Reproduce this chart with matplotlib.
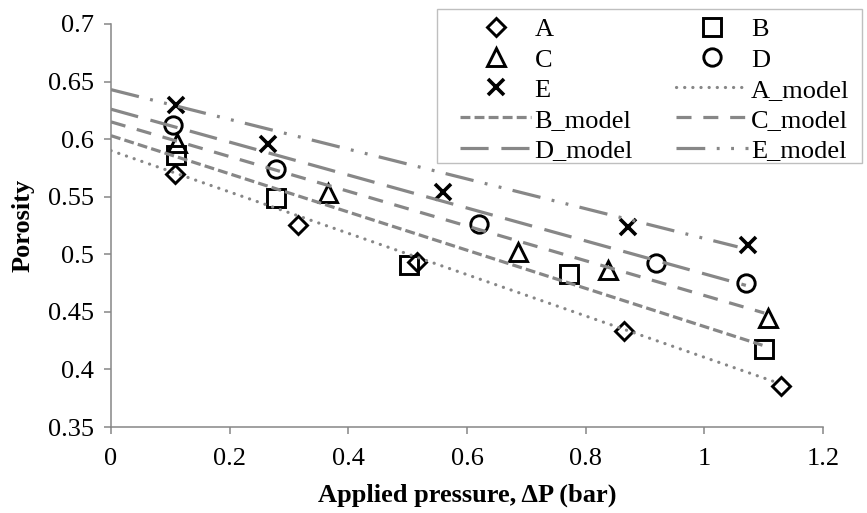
import matplotlib
matplotlib.use("Agg")
import matplotlib.pyplot as plt
from matplotlib.patches import Rectangle

plt.rcParams["font.family"] = ["Liberation Serif", "DejaVu Serif"]
plt.rcParams["font.size"] = 19

# Measured points (applied pressure in bar, porosity)
pressure_A = [0.108, 0.315, 0.515, 0.864, 1.129]
porosity_A = [0.570, 0.525, 0.493, 0.433, 0.386]
pressure_B = [0.110, 0.278, 0.502, 0.772, 1.101]
porosity_B = [0.586, 0.549, 0.491, 0.483, 0.418]
pressure_C = [0.112, 0.365, 0.686, 0.838, 1.107]
porosity_C = [0.597, 0.553, 0.502, 0.486, 0.445]
pressure_D = [0.105, 0.278, 0.620, 0.918, 1.070]
porosity_D = [0.612, 0.574, 0.526, 0.492, 0.475]
pressure_E = [0.110, 0.265, 0.560, 0.871, 1.073]
porosity_E = [0.630, 0.596, 0.554, 0.524, 0.508]

# Linear model lines (start and end points)
model_x_A = [0.0, 1.120]
model_y_A = [0.590, 0.389]
model_x_B = [0.0, 1.098]
model_y_B = [0.603, 0.421]
model_x_C = [0.0, 1.101]
model_y_C = [0.615, 0.449]
model_x_D = [0.0, 1.070]
model_y_D = [0.626, 0.473]
model_x_E = [0.0, 1.056]
model_y_E = [0.643, 0.5065]

x_ticks = [0, 0.2, 0.4, 0.6, 0.8, 1, 1.2]
x_tick_labels = ["0", "0.2", "0.4", "0.6", "0.8", "1", "1.2"]
y_ticks = [0.35, 0.4, 0.45, 0.5, 0.55, 0.6, 0.65, 0.7]
y_tick_labels = ["0.35", "0.4", "0.45", "0.5", "0.55", "0.6", "0.65", "0.7"]

AXIS_GRAY = "#868686"
LINE_GRAY = "#878787"

fig = plt.figure(figsize=(8.67, 5.13), dpi=100)
ax = fig.add_axes([111 / 867, 1 - 427 / 513, 712 / 867, 403 / 513])

mk = dict(linestyle="none", markerfacecolor="none", markeredgecolor="black",
          markeredgewidth=2.1)
hA, = ax.plot(pressure_A, porosity_A, marker="D", markersize=9.5, label="A", **mk)
hB, = ax.plot(pressure_B, porosity_B, marker="s", markersize=12.5, label="B", **mk)
hC, = ax.plot(pressure_C, porosity_C, marker="^", markersize=12.5, label="C", **mk)
hD, = ax.plot(pressure_D, porosity_D, marker="o", markersize=12.5, label="D", **mk)
hE, = ax.plot(pressure_E, porosity_E, marker="x", markersize=11.5, label="E",
              linestyle="none", color="black", markeredgewidth=2.6)

lw = 2.3
mA, = ax.plot(model_x_A, model_y_A, color=LINE_GRAY, lw=lw, dashes=(0.05, 2.5),
              dash_capstyle="round", label="A_model")
mB, = ax.plot(model_x_B, model_y_B, color=LINE_GRAY, lw=lw, dashes=(3.1, 1.3),
              label="B_model")
mC, = ax.plot(model_x_C, model_y_C, color=LINE_GRAY, lw=lw, dashes=(4.7, 3.7),
              label="C_model")
mD, = ax.plot(model_x_D, model_y_D, color=LINE_GRAY, lw=lw, dashes=(8.8, 4.0),
              label="D_model")
mE, = ax.plot(model_x_E, model_y_E, color=LINE_GRAY, lw=lw,
              dashes=(9.0, 3.6, 0.9, 3.6, 0.9, 3.6), label="E_model")

ax.set_xlim(0, 1.2)
ax.set_ylim(0.35, 0.7)
ax.set_xticks(x_ticks)
ax.set_xticklabels(x_tick_labels)
ax.set_yticks(y_ticks)
ax.set_yticklabels(y_tick_labels)

for side in ("top", "right"):
    ax.spines[side].set_visible(False)
for side in ("left", "bottom"):
    ax.spines[side].set_color(AXIS_GRAY)
    ax.spines[side].set_linewidth(1.1)
ax.tick_params(axis="both", direction="out", length=5, width=1.1,
               color=AXIS_GRAY, labelsize=19)
ax.tick_params(axis="x", pad=10)
ax.tick_params(axis="y", pad=7)

ax.set_xlabel("Applied pressure, \u0394P (bar)", fontweight="bold", fontsize=19)
ax.set_ylabel("Porosity", fontweight="bold", fontsize=19)
ax.xaxis.set_label_coords(0.5, -0.14)
ax.yaxis.set_label_coords(-0.108, 0.5)

# matplotlib fills legend columns first, so order handles column by column
handles = [hA, hC, hE, mB, mD, hB, hD, mA, mC, mE]
ax.legend(handles=handles, labels=[h.get_label() for h in handles], ncol=2,
          loc="upper left", bbox_to_anchor=(460 / 867, 1 - 18 / 513),
          bbox_transform=fig.transFigure, frameon=False, borderpad=0,
          borderaxespad=0, handlelength=2.7, handletextpad=0.12,
          columnspacing=1.65, labelspacing=0.25, numpoints=1, fontsize=19)

fig.add_artist(Rectangle((437 / 867, 1 - 163 / 513), 425 / 867, 154 / 513,
                         transform=fig.transFigure, fill=False,
                         edgecolor="#bfbfbf", linewidth=1.0))

fig.savefig("out.png", dpi=100)
